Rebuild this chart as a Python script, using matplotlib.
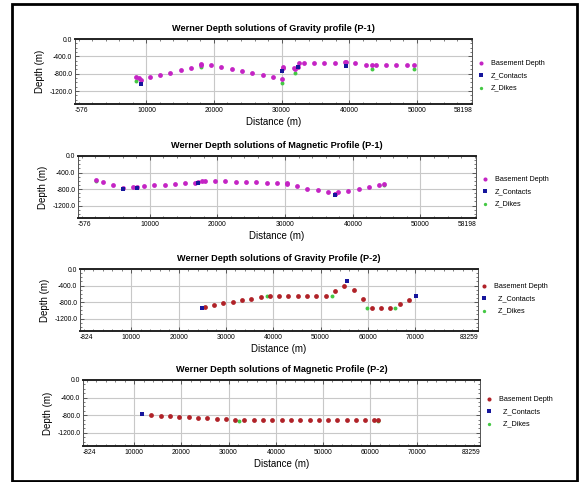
"""
Werner depth solutions for gravity and magnetic profiles P-1 and P-2.
"""

import matplotlib

matplotlib.use("Agg")
import matplotlib.pyplot as plt
from matplotlib.patches import Rectangle
from matplotlib.ticker import FixedLocator, MultipleLocator

plt.rcParams["font.family"] = ["Liberation Sans", "DejaVu Sans"]

# ---- gravity profile P-1 ----
grav1_base_x = [8470, 8960, 9210, 10540, 12030, 13560, 15090, 16620, 18100, 18100,
                19630, 21110, 22640, 24170, 25700, 27240, 28770, 30000, 30150, 30250,
                31780, 31980, 32470, 32520, 33310, 34840, 36320, 37850, 39380, 39480,
                40910, 42440, 43330, 43930, 45460, 46990, 48520, 49560]
grav1_base_y = [-875, -900, -935, -885, -830, -785, -725, -680, -575, -610,
                -610, -655, -700, -745, -790, -830, -875, -915, -665, -650,
                -680, -695, -635, -550, -550, -545, -545, -545, -535, -540,
                -565, -590, -610, -610, -610, -610, -610, -610]
grav1_cont_x = [9210, 30100, 32470, 39530]
grav1_cont_y = [-1035, -730, -635, -625]
grav1_dike_x = [8470, 18100, 30000, 31980, 43430, 49560]
grav1_dike_y = [-965, -655, -1005, -785, -695, -695]

# ---- magnetic profile P-1 ----
mag1_base_x = [2050, 3080, 4600, 6070, 7600, 8180, 9170, 10690, 12210, 13680,
               15200, 16720, 17170, 17760, 18150, 19720, 21190, 22710, 24230, 25760,
               27280, 28800, 30270, 30270, 31790, 33310, 34830, 36310, 37340, 37440,
               37830, 39350, 40870, 42340, 43870, 44550]
mag1_base_y = [-580, -635, -700, -770, -755, -755, -730, -705, -690, -675,
               -660, -645, -635, -605, -595, -605, -610, -620, -625, -635,
               -645, -645, -650, -680, -735, -790, -830, -880, -925, -915,
               -880, -840, -800, -755, -705, -675]
mag1_cont_x = [6070, 8180, 17170, 37340]
mag1_cont_y = [-800, -785, -660, -940]
mag1_dike_x = [2050, 44550]
mag1_dike_y = [-595, -700]

# ---- gravity profile P-2 ----
grav2_base_x = [25490, 27470, 29440, 31410, 33380, 35350, 37320, 39230, 41200, 43170,
                45140, 47110, 49090, 51060, 53030, 55000, 56970, 58870, 60850, 62820,
                64720, 66690, 68660]
grav2_base_y = [-910, -870, -830, -790, -755, -715, -680, -645, -645, -645,
                -645, -645, -645, -645, -525, -410, -505, -730, -955, -955,
                -955, -855, -755]
grav2_cont_x = [25000, 55490, 70210]
grav2_cont_y = [-945, -285, -665]
grav2_dike_x = [38730, 52470, 59790, 65630]
grav2_dike_y = [-645, -645, -955, -955]

# ---- magnetic profile P-2 ----
mag2_base_x = [13670, 15640, 17620, 19590, 21570, 23540, 25520, 27490, 29460, 31370,
               33340, 35320, 37290, 39270, 41240, 43220, 45190, 47170, 49070, 51040,
               53020, 54990, 56970, 58870, 60710, 61550]
mag2_base_y = [-790, -810, -825, -830, -845, -860, -870, -875, -885, -900,
               -905, -905, -905, -905, -905, -905, -905, -905, -905, -905,
               -905, -905, -905, -905, -905, -905]
mag2_cont_x = [11620]
mag2_cont_y = [-775]
mag2_dike_x = [32210, 61690]
mag2_dike_y = [-930, -930]

magenta = "#c424c4"
darkred = "#b02228"
blue = "#16169c"
green = "#44c844"

fig = plt.figure(figsize=(5.81, 4.82), dpi=100)


def depth_panel(rect, title, xlim, base, cont, dike, base_color, leg_anchor, labels):
    ax = fig.add_axes(rect)
    ax.scatter(base[0], base[1], s=12, marker="o", color=base_color, zorder=3,
               linewidths=0, label=labels[0])
    ax.scatter(cont[0], cont[1], s=12, marker="s", color=blue, zorder=4,
               linewidths=0, label=labels[1])
    ax.scatter(dike[0], dike[1], s=8, marker="o", color=green, zorder=2,
               linewidths=0, label=labels[2])
    ax.set_xlim(xlim)
    ax.set_ylim(-1500, 0)
    xt = [xlim[0], 10000, 20000, 30000, 40000, 50000, 60000, 70000, xlim[1]]
    xt = [t for t in xt if xlim[0] <= t <= xlim[1]]
    ax.xaxis.set_major_locator(FixedLocator(xt))
    ax.set_xticklabels([str(t) for t in xt])
    lbls = ax.get_xticklabels()
    lbls[0].set_horizontalalignment("left")
    lbls[-1].set_horizontalalignment("right")
    ax.xaxis.set_minor_locator(MultipleLocator(2000))
    ax.set_yticks([0, -400, -800, -1200])
    ax.set_yticklabels(["0.0", "-400.0", "-800.0", "-1200.0"])
    ax.yaxis.set_minor_locator(MultipleLocator(100))
    ax.tick_params(which="both", direction="in", top=True, right=True,
                   labelsize=4.9, pad=2, color="#444444")
    ax.tick_params(which="major", length=3, width=0.6)
    ax.tick_params(which="minor", length=1.6, width=0.5)
    ax.grid(True, which="major", color="#c8c8c8", linewidth=0.8)
    for side in ["left", "right"]:
        ax.spines[side].set_linewidth(0.7)
        ax.spines[side].set_color("#555555")
    for side in ["top", "bottom"]:
        ax.spines[side].set_linewidth(1.4)
        ax.spines[side].set_color("#222222")
    ax.set_title(title, fontsize=6.6, fontweight="bold", pad=6)
    ax.set_xlabel("Distance (m)", fontsize=7, labelpad=2)
    ax.set_ylabel("Depth (m)", fontsize=7, labelpad=3)
    ax.legend(loc="upper left", bbox_to_anchor=leg_anchor, bbox_transform=fig.transFigure,
              frameon=False, fontsize=5.2, handletextpad=0.8, labelspacing=0.75,
              markerscale=0.85, borderpad=0, handlelength=1.0)
    return ax


W, H = 581.0, 482.0


def rect_px(x0, x1, y0, y1):
    return [x0 / W, 1 - y1 / H, (x1 - x0) / W, (y1 - y0) / H]


depth_panel(rect_px(75, 472, 39, 104), "Werner Depth solutions of Gravity profile (P-1)",
            (-576, 58198), (grav1_base_x, grav1_base_y), (grav1_cont_x, grav1_cont_y),
            (grav1_dike_x, grav1_dike_y), magenta, (474 / W, 1 - 56 / H),
            ["Basement Depth", "Z_Contacts", "Z_Dikes"])
depth_panel(rect_px(78, 476, 156, 218), "Werner Depth solutions of Magnetic Profile (P-1)",
            (-576, 58198), (mag1_base_x, mag1_base_y), (mag1_cont_x, mag1_cont_y),
            (mag1_dike_x, mag1_dike_y), magenta, (478 / W, 1 - 172 / H),
            ["Basement Depth", "Z_Contacts", "Z_Dikes"])
depth_panel(rect_px(80, 478, 269, 331), "Werner Depth solutions of Gravity Profile (P-2)",
            (-824, 83259), (grav2_base_x, grav2_base_y), (grav2_cont_x, grav2_cont_y),
            (grav2_dike_x, grav2_dike_y), darkred, (477 / W, 1 - 279 / H),
            ["Basement Depth", "  Z_Contacts", "  Z_Dikes"])
depth_panel(rect_px(83, 480, 380, 446), "Werner Depth solutions of Magnetic Profile (P-2)",
            (-824, 83259), (mag2_base_x, mag2_base_y), (mag2_cont_x, mag2_cont_y),
            (mag2_dike_x, mag2_dike_y), darkred, (482 / W, 1 - 392 / H),
            ["Basement Depth", "  Z_Contacts", "  Z_Dikes"])

# outer frame around the whole figure
fig.patches.append(Rectangle((12 / W, 1 / H), 565 / W, 477 / H, transform=fig.transFigure,
                             fill=False, edgecolor="black", linewidth=2.0))

fig.savefig("out.png", dpi=100)
